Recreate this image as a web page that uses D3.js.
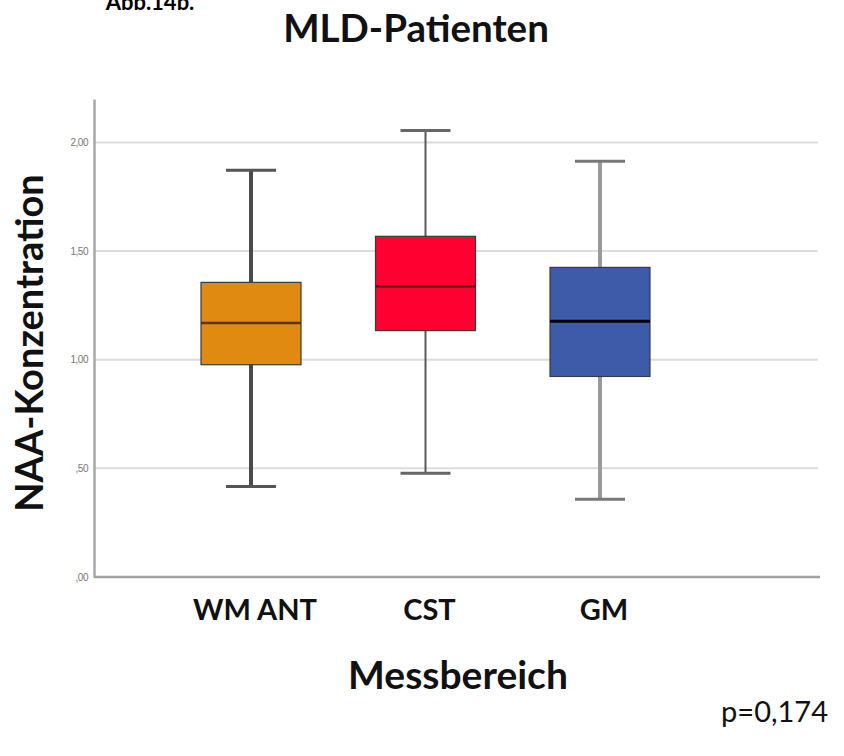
<!DOCTYPE html>
<html>
<head>
<meta charset="utf-8">
<script src="https://cdn.jsdelivr.net/npm/d3@7"></script>
<style>
  body { margin: 0; background: #fff; }
  svg { display: block; }
  text { font-family: Lato, "Open Sans", sans-serif; }
</style>
</head>
<body>
<div id="container"></div>
<script>
// CONSTANTS AND GLOBALS
const width = 844,
  height = 756,
  margin = { top: 99, bottom: 179, left: 94, right: 24 };

// DATA
const categories = ["WM ANT", "CST", "GM"];
const whiskerLow = [0.416, 0.478, 0.358];
const q1 = [0.977, 1.134, 0.923];
const median = [1.169, 1.338, 1.177];
const q3 = [1.356, 1.568, 1.425];
const whiskerHigh = [1.872, 2.055, 1.914];
const yTicks = [0, 0.5, 1.0, 1.5, 2.0];
const yTickLabels = [",00", ",50", "1,00", "1,50", "2,00"];

// styles per box
const fills = ["#E08A12", "#FF0030", "#3E5BA9"];
const stemColors = ["#4a4a4a", "#5a5a5a", "#9a9a9a"];
const stemWidths = [4, 2, 4];
const capColors = ["#555", "#666", "#777"];
const medianColors = ["#5a3408", "#6a0018", "#000"];
const medianWidths = [2.5, 2.5, 3];

const data = categories.map((c, i) => ({
  cat: c,
  lo: whiskerLow[i], q1: q1[i], med: median[i], q3: q3[i], hi: whiskerHigh[i], i
}));

// SCALES
const yScale = d3.scaleLinear()
  .domain([0, 2.2])
  .range([height - margin.bottom, margin.top]);

const xScale = d3.scalePoint()
  .domain(categories)
  .range([margin.left + 157, margin.left + 506]);

const boxWidth = 100, capWidth = 50;

// CREATE SVG ELEMENT
const svg = d3.select("#container")
  .append("svg")
  .attr("width", width)
  .attr("height", height);

// GRID LINES
svg.append("g")
  .selectAll("line")
  .data(yTicks.filter(d => d > 0))
  .join("line")
  .attr("x1", margin.left)
  .attr("x2", width - margin.right - 2)
  .attr("y1", d => yScale(d))
  .attr("y2", d => yScale(d))
  .attr("stroke", "#dcdcdc")
  .attr("stroke-width", 2);

// Y AXIS
const yAxis = d3.axisLeft(yScale)
  .tickValues(yTicks)
  .tickSize(0)
  .tickPadding(6)
  .tickFormat((d, i) => yTickLabels[i]);

const yAxisGroup = svg.append("g")
  .attr("class", "yAxis")
  .attr("transform", `translate(${margin.left}, 0)`)
  .call(yAxis);

yAxisGroup.select(".domain")
  .attr("stroke", "#a8a8a8")
  .attr("stroke-width", 2.5);
yAxisGroup.selectAll("text")
  .attr("fill", "#777")
  .style("font-family", "Arial, 'Liberation Sans', sans-serif")
  .style("font-size", "10px")
  .style("letter-spacing", "-0.5px");

// X BASELINE
svg.append("line")
  .attr("x1", margin.left)
  .attr("x2", width - margin.right)
  .attr("y1", yScale(0))
  .attr("y2", yScale(0))
  .attr("stroke", "#a0a0a0")
  .attr("stroke-width", 2.5);

// BOXES
const boxes = svg.append("g")
  .selectAll("g")
  .data(data)
  .join("g")
  .attr("transform", d => `translate(${xScale(d.cat)}, 0)`);

// whisker stems
boxes.append("line")
  .attr("y1", d => yScale(d.hi))
  .attr("y2", d => yScale(d.lo))
  .attr("stroke", d => stemColors[d.i])
  .attr("stroke-width", d => stemWidths[d.i]);

// whisker caps
boxes.selectAll(".cap")
  .data(d => [{ v: d.lo, i: d.i }, { v: d.hi, i: d.i }])
  .join("line")
  .attr("class", "cap")
  .attr("x1", -capWidth / 2)
  .attr("x2", capWidth / 2)
  .attr("y1", d => yScale(d.v))
  .attr("y2", d => yScale(d.v))
  .attr("stroke", d => capColors[d.i])
  .attr("stroke-width", 3);

// box
boxes.append("rect")
  .attr("x", -boxWidth / 2)
  .attr("width", boxWidth)
  .attr("y", d => yScale(d.q3))
  .attr("height", d => yScale(d.q1) - yScale(d.q3))
  .attr("fill", d => fills[d.i])
  .attr("stroke", "#3a3a3a")
  .attr("stroke-width", 1.2);

// median
boxes.append("line")
  .attr("x1", -boxWidth / 2)
  .attr("x2", boxWidth / 2)
  .attr("y1", d => yScale(d.med))
  .attr("y2", d => yScale(d.med))
  .attr("stroke", d => medianColors[d.i])
  .attr("stroke-width", d => medianWidths[d.i]);

// CATEGORY LABELS
svg.append("g")
  .selectAll("text")
  .data(categories)
  .join("text")
  .attr("x", d => xScale(d) + 4)
  .attr("y", 620)
  .attr("text-anchor", "middle")
  .style("font-size", "29px")
  .style("font-weight", "bold")
  .attr("fill", "#111")
  .text(d => d);

// TITLES
svg.append("text")
  .attr("x", 150)
  .attr("y", 10)
  .attr("text-anchor", "middle")
  .style("font-size", "22px")
  .style("font-weight", "bold")
  .text("Abb.14b.");

svg.append("text")
  .attr("x", 416)
  .attr("y", 42)
  .attr("text-anchor", "middle")
  .style("font-size", "38.5px")
  .style("font-weight", "bold")
  .attr("fill", "#111")
  .text("MLD-Patienten");

svg.append("text")
  .attr("transform", `translate(43, ${(178 + 508) / 2}) rotate(-90)`)
  .attr("text-anchor", "middle")
  .style("font-size", "38px")
  .style("font-weight", "bold")
  .attr("fill", "#111")
  .text("NAA-Konzentration");

svg.append("text")
  .attr("x", 458)
  .attr("y", 689)
  .attr("text-anchor", "middle")
  .style("font-size", "39px")
  .style("font-weight", "bold")
  .attr("fill", "#111")
  .text("Messbereich");

svg.append("text")
  .attr("x", 828)
  .attr("y", 722)
  .attr("text-anchor", "end")
  .style("font-size", "29px")
  .attr("fill", "#111")
  .text("p=0,174");
</script>
</body>
</html>
